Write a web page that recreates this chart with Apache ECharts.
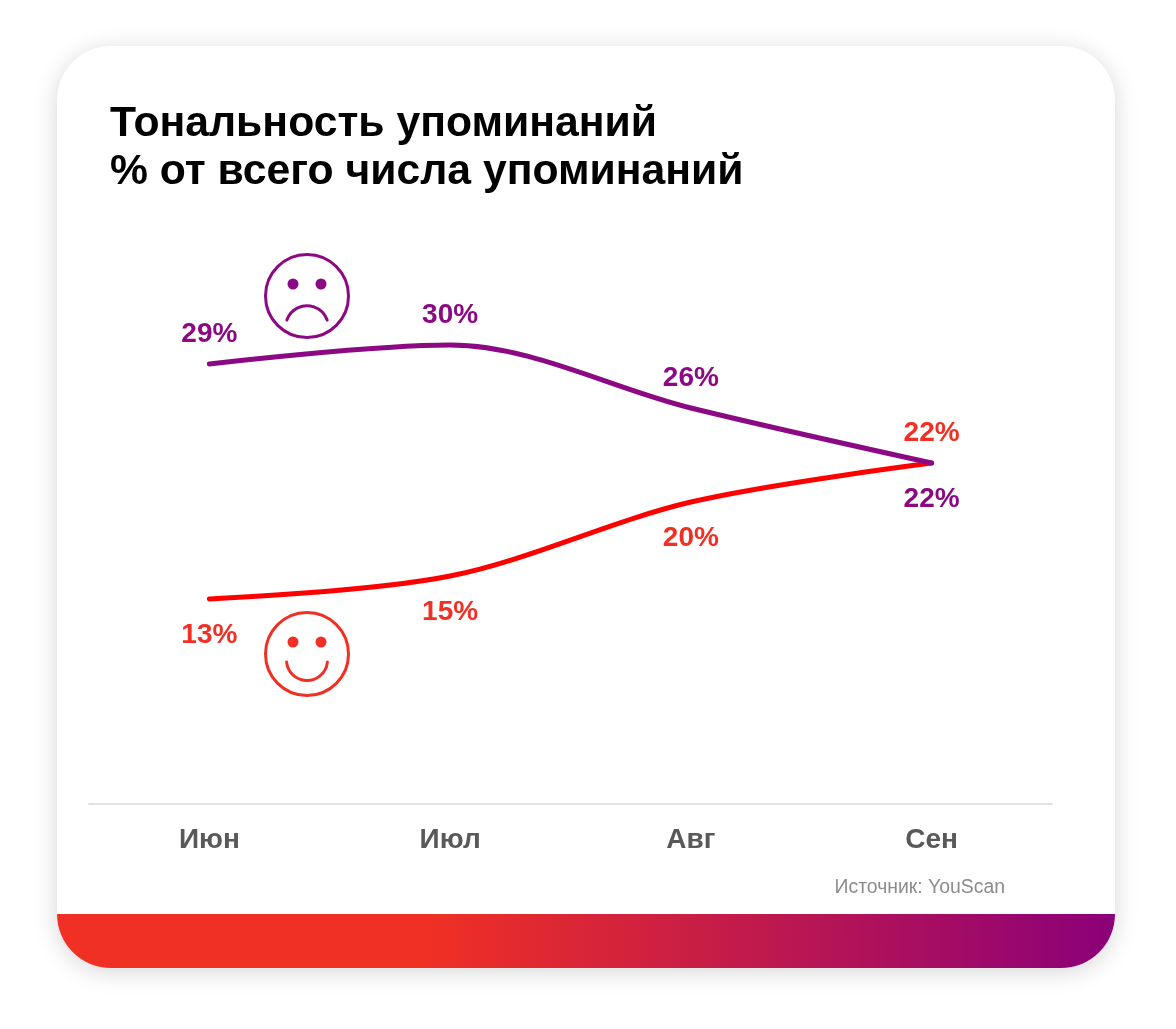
<!DOCTYPE html>
<html><head><meta charset="utf-8">
<style>html,body{margin:0;padding:0;background:#fff}#c{width:1176px;height:1029px}</style>
<script src="https://cdn.jsdelivr.net/npm/echarts@6/dist/echarts.min.js"></script>
</head><body><div id="c"></div>
<script>
const months = ['Июн','Июл','Авг','Сен'];
const negative = [28.73, 30.0, 25.8, 22.13];
const positive = [13.07, 14.6, 19.53, 22.13];
const negativeLabels = ['29%','30%','26%','22%'];
const positiveLabels = ['13%','15%','20%','22%'];
const FONT = '"Liberation Sans", Arial, sans-serif';
const RED = '#f03024', PURPLE = '#8b0a83';

function pts(values, labels, pos, lastPos, color){
  return values.map((v,i)=>{
    const p = i===values.length-1?lastPos:pos;
    return {value:v,label:{show:true,position:p,distance:p==='top'?15:22,
      formatter:labels[i],color:color,fontFamily:FONT,fontWeight:'bold',fontSize:28}};
  });
}
function face(cy, color, mouth){
  return [
    {type:'circle',z:5,shape:{cx:307,cy:cy,r:41.5},style:{fill:'none',stroke:color,lineWidth:3}},
    {type:'circle',z:5,shape:{cx:293,cy:cy-12,r:5.5},style:{fill:color}},
    {type:'circle',z:5,shape:{cx:321,cy:cy-12,r:5.5},style:{fill:color}},
    mouth
  ];
}
const chart = echarts.init(document.getElementById('c'),null,{renderer:'canvas'});
chart.setOption({
  animation:false,
  backgroundColor:'#fff',
  title:{text:'Тональность упоминаний\n% от всего числа упоминаний',left:105,top:95,
    textStyle:{fontFamily:FONT,fontWeight:'bold',fontSize:42.7,lineHeight:48,color:'#000'}},
  grid:{left:89,right:124,top:204,bottom:225},
  xAxis:{type:'category',data:months,boundaryGap:true,
    axisLine:{show:true,onZero:false,lineStyle:{color:'#e2e2e2',width:2}},axisTick:{show:false},
    axisLabel:{margin:22,color:'#595959',fontFamily:FONT,fontWeight:'bold',fontSize:28}},
  yAxis:{type:'value',min:-0.6,max:39.4,show:false,splitLine:{show:false}},
  series:[
    {type:'line',name:'Позитив',data:pts(positive,positiveLabels,'bottom','top',RED),smooth:0.33,symbol:'circle',symbolSize:1,showSymbol:true,
     lineStyle:{color:'#ff0000',width:5,cap:'round'},itemStyle:{color:'#ff0000'},z:3},
    {type:'line',name:'Негатив',data:pts(negative,negativeLabels,'top','bottom',PURPLE),smooth:0.33,symbol:'circle',symbolSize:1,showSymbol:true,
     lineStyle:{color:PURPLE,width:5,cap:'round'},itemStyle:{color:PURPLE},z:4}
  ],
  graphic:{elements:[
    {type:'rect',z:-10,silent:true,shape:{x:57,y:46,width:1058,height:922,r:54},
      style:{fill:'#fff',shadowBlur:24,shadowColor:'rgba(0,0,0,0.16)',shadowOffsetY:4}},
    {type:'rect',z:-9,silent:true,shape:{x:57,y:914,width:1058,height:54,r:[0,0,54,54]},
      style:{fill:new echarts.graphic.LinearGradient(0,0,1,0.05,[
        {offset:0,color:RED},{offset:0.35,color:RED},{offset:1,color:'#8b0079'}])}},
    {type:'text',z:5,style:{x:1005,y:888,text:'Источник: YouScan',align:'right',verticalAlign:'middle',
      fontFamily:FONT,fontSize:19.4,fill:'#8c8c8c'}},
    ...face(296,PURPLE,{type:'arc',z:5,shape:{cx:307,cy:327,r:21.3,startAngle:Math.PI+0.33,endAngle:2*Math.PI-0.33},style:{fill:'none',stroke:PURPLE,lineWidth:3,lineCap:'round'}}),
    ...face(654,RED,{type:'arc',z:5,shape:{cx:307,cy:660,r:20.5,startAngle:0.1,endAngle:Math.PI-0.1},style:{fill:'none',stroke:RED,lineWidth:3,lineCap:'round'}})
  ]}
});
</script></body></html>
